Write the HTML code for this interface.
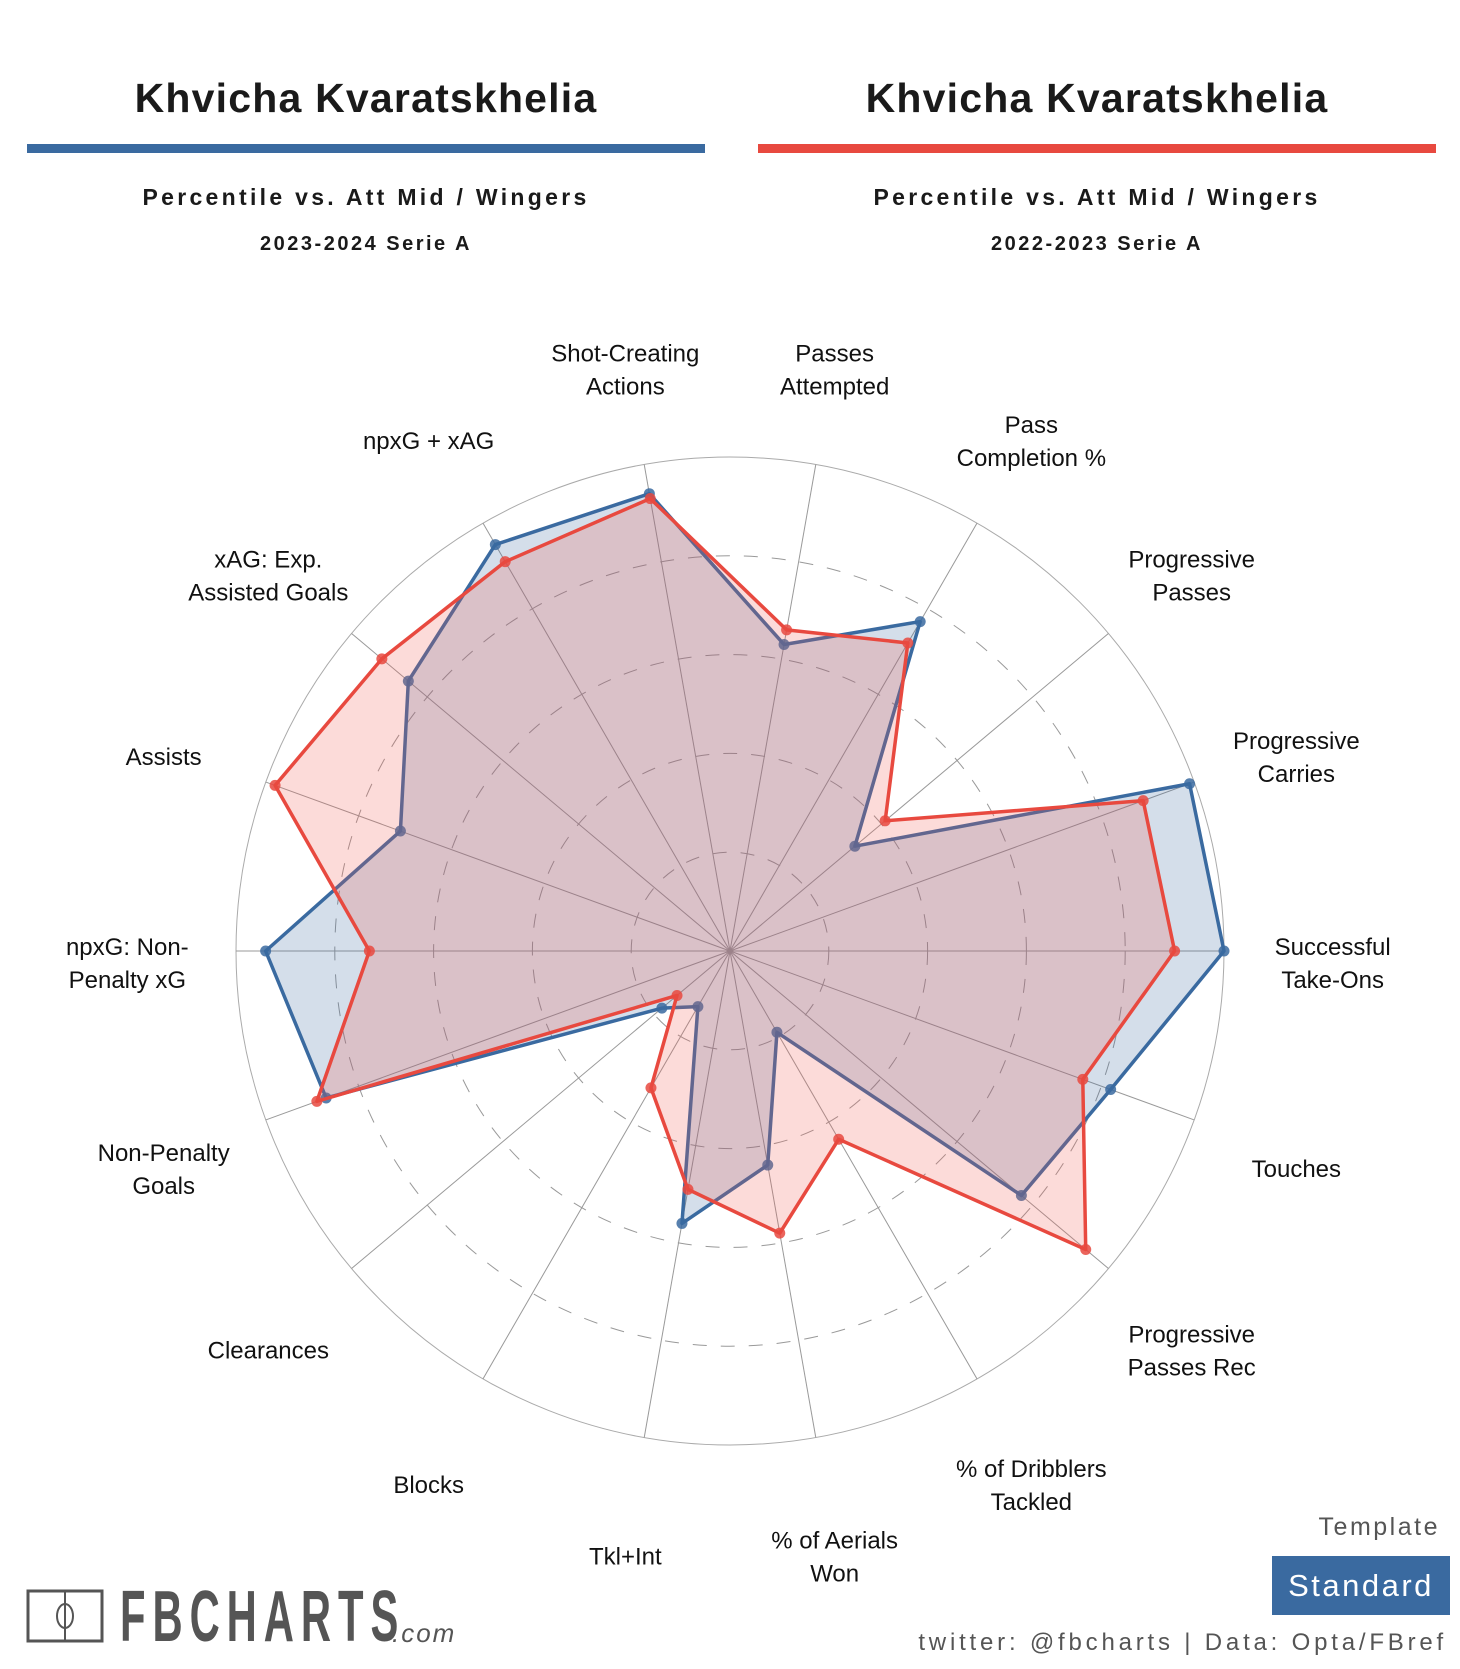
<!DOCTYPE html>
<html><head><meta charset="utf-8"><style>
body{margin:0;background:#fff;width:1460px;height:1669px;overflow:hidden;font-family:"Liberation Sans",sans-serif}
svg{position:absolute;left:0;top:0}
</style></head><body>
<svg width="1460" height="1669" viewBox="0 0 1460 1669">
<g>
<text x="366" y="112" text-anchor="middle" font-size="41" font-weight="bold" fill="#1a1a1a" letter-spacing="1.2">Khvicha Kvaratskhelia</text>
<rect x="27" y="144" width="678" height="9" fill="#3a6aa0"/>
<text x="366" y="205" text-anchor="middle" font-size="23" font-weight="bold" fill="#1a1a1a" letter-spacing="3.3">Percentile vs. Att Mid / Wingers</text>
<text x="366" y="250" text-anchor="middle" font-size="20" font-weight="bold" fill="#1a1a1a" letter-spacing="2.5">2023-2024 Serie A</text>
<text x="1097" y="112" text-anchor="middle" font-size="41" font-weight="bold" fill="#1a1a1a" letter-spacing="1.2">Khvicha Kvaratskhelia</text>
<rect x="758" y="144" width="678" height="9" fill="#e8493f"/>
<text x="1097" y="205" text-anchor="middle" font-size="23" font-weight="bold" fill="#1a1a1a" letter-spacing="3.3">Percentile vs. Att Mid / Wingers</text>
<text x="1097" y="250" text-anchor="middle" font-size="20" font-weight="bold" fill="#1a1a1a" letter-spacing="2.5">2022-2023 Serie A</text>
</g>
<g id="chart"></g>
<g>
<rect x="28" y="1591" width="74" height="50" fill="none" stroke="#555" stroke-width="3"/>
<line x1="65" y1="1591" x2="65" y2="1641" stroke="#555" stroke-width="2"/>
<ellipse cx="65" cy="1616" rx="8" ry="12" fill="none" stroke="#555" stroke-width="2"/>
<text x="120" y="1641" font-size="72" font-weight="bold" fill="#555" letter-spacing="12" transform="translate(120 0) scale(0.58 1) translate(-120 0)">FBCHARTS</text>
<text x="392" y="1642" font-size="26" font-style="italic" fill="#555" letter-spacing="2">.com</text>
<text x="1440" y="1535" text-anchor="end" font-size="25" fill="#555" letter-spacing="2.5">Template</text>
<rect x="1272" y="1556" width="178" height="59" fill="#3a6aa0"/>
<text x="1361" y="1596" text-anchor="middle" font-size="31" fill="#fff" letter-spacing="2.5">Standard</text>
<text x="1447" y="1650" text-anchor="end" font-size="24" fill="#555" letter-spacing="3.8">twitter: @fbcharts | Data: Opta/FBref</text>
</g>
</svg>
<script>
const categories=[["Shot-Creating","Actions"],["Passes","Attempted"],["Pass","Completion %"],["Progressive","Passes"],["Progressive","Carries"],["Successful","Take-Ons"],["Touches"],["Progressive","Passes Rec"],["% of Dribblers","Tackled"],["% of Aerials","Won"],["Tkl+Int"],["Blocks"],["Clearances"],["Non-Penalty","Goals"],["npxG: Non-","Penalty xG"],["Assists"],["xAG: Exp.","Assisted Goals"],["npxG + xAG"]];
const blueValues=[94,63,77,33,99,100,82,77,19,44,56,13,18,87,94,71,85,95];
const redValues=[93,66,72,41,89,90,76,94,44,58,49,32,14,89,73,98,92,91];
const ringLevels=[20,40,60,80,100];
const NS="http://www.w3.org/2000/svg";
const cx=730,cy=951,R=494;
const g=document.getElementById('chart');
function ang(i){return (-10+i*360/categories.length)*Math.PI/180;}
function pt(i,v){const a=ang(i),r=R*v/100;return [cx+r*Math.sin(a),cy-r*Math.cos(a)];}
function mk(t,attrs){const e=document.createElementNS(NS,t);for(const k in attrs)e.setAttribute(k,attrs[k]);g.appendChild(e);return e;}
ringLevels.forEach(l=>{
 const c=mk('circle',{cx:cx,cy:cy,r:R*l/100,fill:'none',stroke:l===100?'#aaa':'#999','stroke-width':1,'stroke-dasharray':l===100?'none':'14 14'});
 
 
});
categories.forEach((c,i)=>{
 const p=pt(i,100);
 const l=mk('line',{x1:cx,y1:cy,x2:p[0],y2:p[1],stroke:'#999','stroke-width':1});
 
 
 const q=pt(i,122);
 const t=mk('text',{x:q[0],y:q[1]-(c.length-1)*16+20,'text-anchor':'middle','font-size':24,fill:'#111'});
 
 
 c.forEach((s,j)=>{const ts=document.createElementNS(NS,'tspan');ts.setAttribute('x',q[0]);ts.setAttribute('dy',j?33:0);ts.textContent=s;t.appendChild(ts);});
});
function series(vals,fill,stroke,name){
 const pts=vals.map((v,i)=>pt(i,v));
 const s=pts.map(p=>p.join(',')).join(' ');
 const f=mk('polygon',{points:s,fill:fill});
 
 
 const o=mk('polygon',{points:s,fill:'none',stroke:stroke,'stroke-width':3.5,'stroke-linejoin':'round'});
 
 
 pts.forEach(p=>{const d=mk('circle',{cx:p[0],cy:p[1],r:5.5,fill:stroke,opacity:0.85});
  
  });
}
series(blueValues,'rgba(58,106,160,0.22)','#3a6aa0','blue-series');
series(redValues,'rgba(240,90,80,0.22)','#e8493f','red-series');
</script>
</body></html>
